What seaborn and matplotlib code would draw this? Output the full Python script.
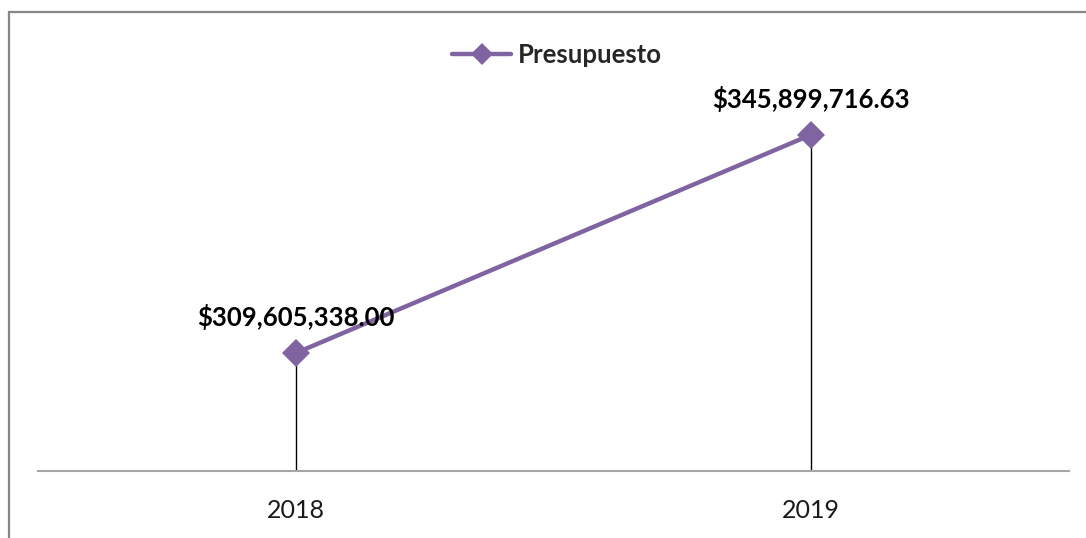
import pandas as pd
import seaborn as sns
import matplotlib.pyplot as plt
from matplotlib.patches import Rectangle

# Data
years = ["2018", "2019"]
presupuesto = [309605338.00, 345899716.63]
serie = "Presupuesto"

df = pd.DataFrame({"Año": years, "Valor": presupuesto})

sns.set_theme(style="white")
plt.rcParams["font.family"] = ["Lato", "DejaVu Sans"]

purple = "#8064A2"
fig = plt.figure(figsize=(10.86, 5.38), dpi=100)
ax = fig.add_axes([38 / 1086, 1 - 471 / 538, (1069 - 38) / 1086, (471 - 110) / 538])

y_min, y_max = 290e6, 350e6

# drop lines from each point down to the axis
ax.vlines(range(len(years)), y_min, presupuesto, color="black", linewidth=1, zorder=1)

sns.lineplot(data=df, x="Año", y="Valor", ax=ax, color=purple, linewidth=3.2,
             marker="D", markersize=14, markeredgewidth=0, label=serie,
             sort=False, zorder=3)

for i, v in enumerate(presupuesto):
    ax.annotate(f"${v:,.2f}", (i, v), xytext=(0, 26), textcoords="offset points",
                ha="center", va="center", fontsize=18.5, fontweight="bold", color="black")

ax.set_xlim(-0.5, len(years) - 0.5)
ax.set_ylim(y_min, y_max)
ax.set_xlabel("")
ax.set_ylabel("")
ax.set_yticks([])
ax.tick_params(axis="x", length=0, pad=20, labelsize=18, colors="#1a1a1a")
for s in ["top", "right", "left"]:
    ax.spines[s].set_visible(False)
ax.spines["bottom"].set_color("#A6A6A6")
ax.spines["bottom"].set_linewidth(1.5)

leg = ax.legend(loc="center", bbox_to_anchor=(557 / 1086, 1 - 55 / 538),
                bbox_transform=fig.transFigure, frameon=False, handlelength=2.3,
                handletextpad=0.25, prop={"weight": "bold", "size": 18.5})
for h in leg.get_lines():
    h.set_markersize(11)

# chart border (cut off at right and bottom)
fig.patches.append(Rectangle((9 / 1086, -0.1), 1.2, 1 - 12 / 538 + 0.1,
                             transform=fig.transFigure, fill=False,
                             edgecolor="#878787", linewidth=1.6))

plt.savefig("out.png", dpi=100)
